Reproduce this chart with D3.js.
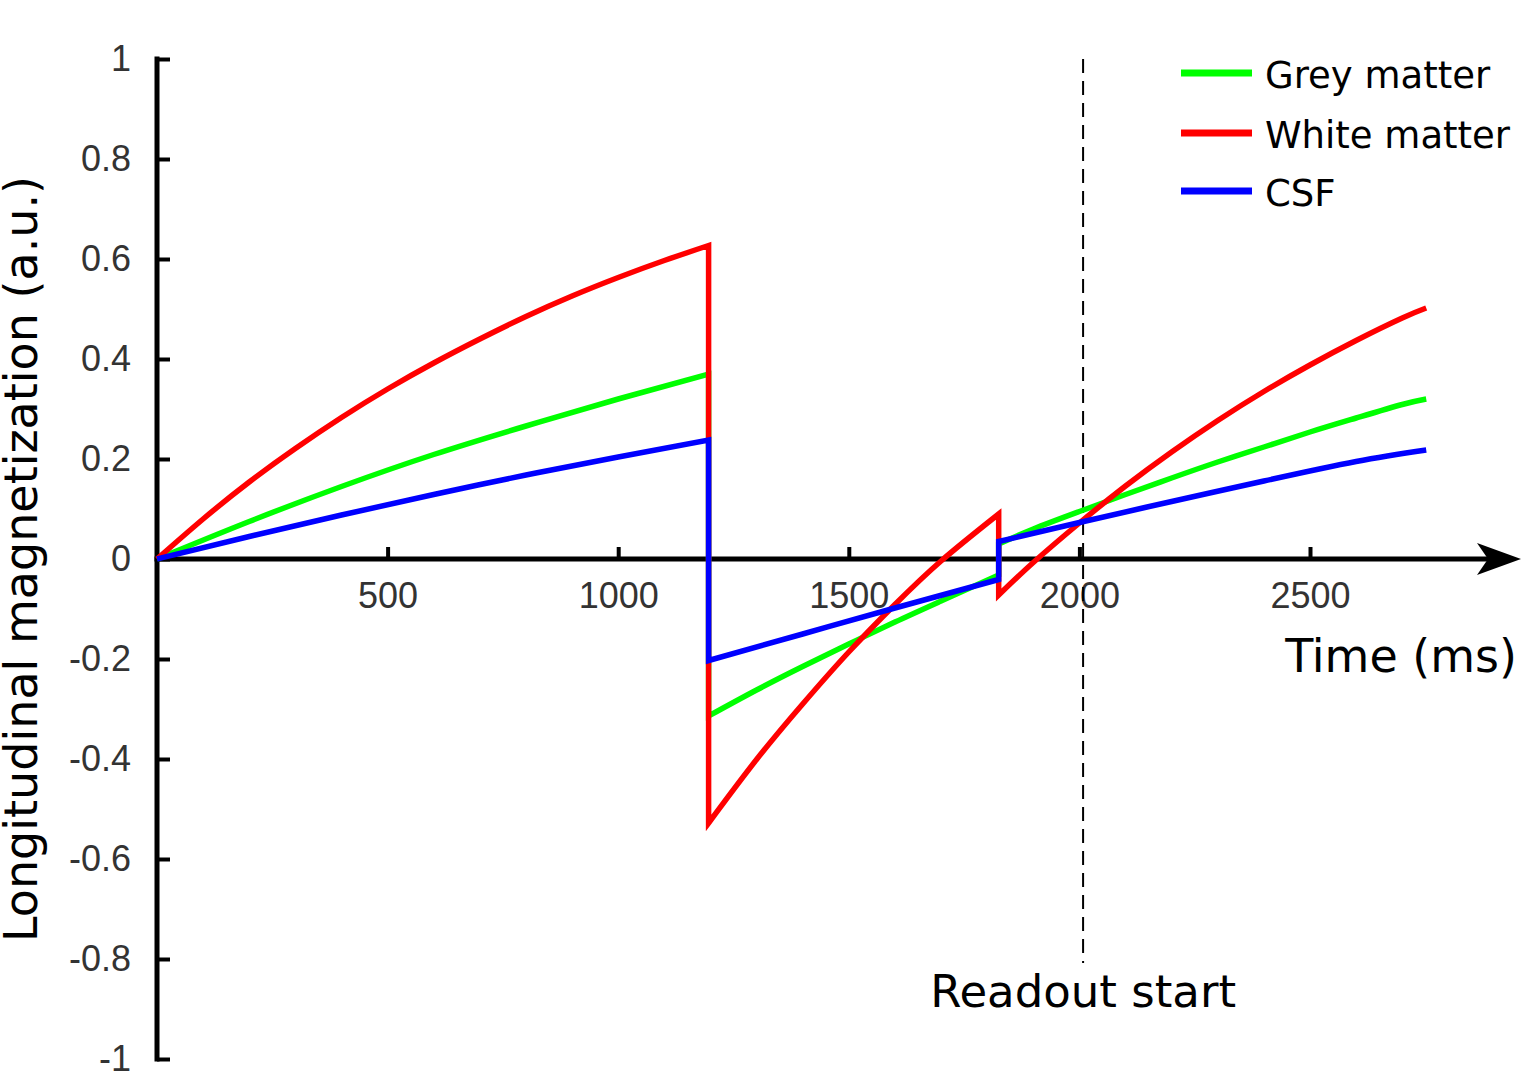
<!DOCTYPE html>
<html>
<head>
<meta charset="utf-8">
<script src="https://cdn.jsdelivr.net/npm/d3@7"></script>
<style>
  body { margin: 0; background: #fff; }
  svg { display: block; }
  .tick text { font-family: "Liberation Sans", Arial, sans-serif; font-size: 36px; fill: #333; }
  .lbl { font-family: "DejaVu Sans", Verdana, sans-serif; fill: #000; }
</style>
</head>
<body>
<svg id="chart" width="1521" height="1074"></svg>
<script>
// grey matter: three recovery segments, split at the two inversion pulses
const greyT1 = [0, 200, 400, 600, 800, 1000, 1196];
const greyM1 = [0, 0.075, 0.145, 0.209, 0.266, 0.32, 0.37];
const greyT2 = [1196, 1300, 1400, 1500, 1600, 1700, 1825];
const greyM2 = [-0.314, -0.262, -0.215, -0.17, -0.126, -0.084, -0.032];
const greyT3 = [1825, 1900, 2000, 2100, 2200, 2300, 2400, 2500, 2600, 2700, 2752];
const greyM3 = [0.03, 0.06, 0.095, 0.129, 0.162, 0.194, 0.224, 0.254, 0.282, 0.309, 0.32];

// white matter
const whiteT1 = [0, 100, 200, 300, 400, 500, 600, 700, 800, 900, 1000, 1100, 1196];
const whiteM1 = [0, 0.08, 0.154, 0.221, 0.283, 0.34, 0.392, 0.44, 0.485, 0.526, 0.563, 0.597, 0.627];
const whiteT2 = [1196, 1300, 1400, 1500, 1600, 1700, 1825];
const whiteM2 = [-0.528, -0.401, -0.29, -0.186, -0.091, -0.004, 0.09];
const whiteT3 = [1825, 1900, 2000, 2100, 2200, 2300, 2400, 2500, 2600, 2700, 2752];
const whiteM3 = [-0.072, -0.007, 0.072, 0.146, 0.214, 0.277, 0.335, 0.388, 0.437, 0.482, 0.502];

// CSF
const csfT1 = [0, 200, 400, 600, 800, 1000, 1196];
const csfM1 = [0, 0.045, 0.088, 0.129, 0.168, 0.204, 0.238];
const csfT2 = [1196, 1400, 1600, 1825];
const csfM2 = [-0.203, -0.15, -0.098, -0.041];
const csfT3 = [1825, 2000, 2200, 2400, 2600, 2752];
const csfM3 = [0.035, 0.073, 0.115, 0.156, 0.195, 0.218];

const xTicks = [500, 1000, 1500, 2000, 2500];
const yTicks = [1, 0.8, 0.6, 0.4, 0.2, 0, -0.2, -0.4, -0.6, -0.8, -1];
const readoutTime = 2008;

const legendNames = ["Grey matter", "White matter", "CSF"];
const legendColors = ["#00ff00", "#ff0000", "#0000ff"];

const svg = d3.select("#chart");

const x = d3.scaleLinear().domain([0, 2500]).range([157, 1310]);
const y = d3.scaleLinear().domain([-1, 1]).range([1059, 59]);

// y axis, ticks pointing right
const yAxis = svg.append("g")
  .attr("transform", `translate(${x(0)},0)`)
  .call(d3.axisLeft(y).tickValues(yTicks).tickSize(-13).tickSizeOuter(0).tickPadding(26)
    .tickFormat(d => String(+d.toFixed(1))));
yAxis.select(".domain").attr("stroke", "#000").attr("stroke-width", 5)
  .attr("d", `M0,${y(1) - 2.5}V${y(-1) + 2.5}`);
yAxis.selectAll(".tick line").attr("stroke", "#000").attr("stroke-width", 4);

// x axis, ticks pointing up
const xAxis = svg.append("g")
  .attr("transform", `translate(0,${y(0)})`)
  .call(d3.axisBottom(x).tickValues(xTicks).tickSize(-12).tickPadding(23).tickFormat(d3.format("d")));
xAxis.select(".domain").remove();
xAxis.selectAll(".tick line").attr("stroke", "#000").attr("stroke-width", 4);

svg.append("line")
  .attr("x1", x(0) - 2.5).attr("x2", 1490)
  .attr("y1", y(0)).attr("y2", y(0))
  .attr("stroke", "#000").attr("stroke-width", 5);
svg.append("path")
  .attr("d", `M1521,${y(0)}L1477,${y(0) - 16}L1488,${y(0)}L1477,${y(0) + 16}Z`)
  .attr("fill", "#000");

// readout start marker
svg.append("line")
  .attr("x1", x(readoutTime)).attr("x2", x(readoutTime))
  .attr("y1", 59).attr("y2", 963)
  .attr("stroke", "#000").attr("stroke-width", 2)
  .attr("stroke-dasharray", "14,8");

// curves
const line = d3.line().x(d => x(d[0])).y(d => y(d[1])).curve(d3.curveNatural);

const segPath = function(segs) {
  return segs.map((s, i) => {
    const p = line(d3.zip(s[0], s[1]));
    return i === 0 ? p : "L" + p.slice(1);
  }).join("");
};

const series = [
  { color: "#00ff00", segs: [[greyT1, greyM1], [greyT2, greyM2], [greyT3, greyM3]] },
  { color: "#ff0000", segs: [[whiteT1, whiteM1], [whiteT2, whiteM2], [whiteT3, whiteM3]] },
  { color: "#0000ff", segs: [[csfT1, csfM1], [csfT2, csfM2], [csfT3, csfM3]] }
];

svg.selectAll("path.curve")
  .data(series)
  .enter().append("path")
  .attr("class", "curve")
  .attr("d", d => segPath(d.segs))
  .attr("fill", "none")
  .attr("stroke", d => d.color)
  .attr("stroke-width", 5.5)
  .attr("stroke-linejoin", "miter");

// labels
svg.append("text").attr("class", "lbl")
  .attr("transform", "translate(37,559) rotate(-90)")
  .attr("text-anchor", "middle")
  .attr("font-size", 46)
  .text("Longitudinal magnetization (a.u.)");

svg.append("text").attr("class", "lbl")
  .attr("x", 1517).attr("y", 672)
  .attr("text-anchor", "end")
  .attr("font-size", 46)
  .text("Time (ms)");

svg.append("text").attr("class", "lbl")
  .attr("x", x(readoutTime)).attr("y", 1007)
  .attr("text-anchor", "middle")
  .attr("font-size", 45)
  .text("Readout start");

// legend
const legend = svg.append("g");
const legendY = [73, 133, 191];
legendNames.forEach((name, i) => {
  legend.append("line")
    .attr("x1", 1181).attr("x2", 1252)
    .attr("y1", legendY[i]).attr("y2", legendY[i])
    .attr("stroke", legendColors[i]).attr("stroke-width", 7);
  legend.append("text").attr("class", "lbl")
    .attr("x", 1265).attr("y", legendY[i] + 15)
    .attr("font-size", 37)
    .text(name);
});
</script>
</body>
</html>
